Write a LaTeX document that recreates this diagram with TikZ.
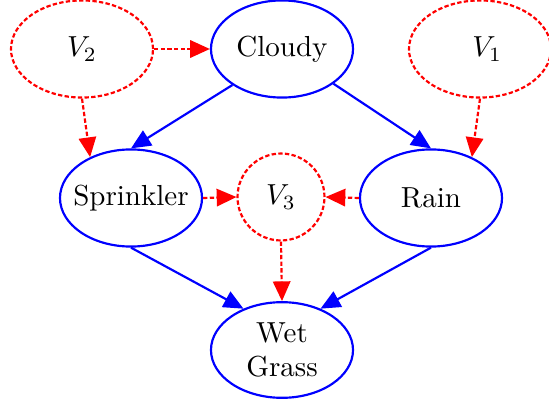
\documentclass[tikz,border=0pt]{standalone}
\usepackage{amsmath}
\usetikzlibrary{shapes.geometric,arrows.meta}

\tikzset{
  varnode/.style={ellipse, draw={rgb, 255:red, 0; green, 0; blue, 255}, line width=0.75pt, minimum width=49pt, minimum height=33.5pt, inner sep=0.75pt, align=center},
  noisenode/.style={ellipse, draw={rgb, 255:red, 255; green, 0; blue, 0}, line width=0.75pt, dash pattern={on 1.5pt off 0.8pt}, minimum width=49pt, minimum height=33.5pt, inner sep=0.75pt},
  causal/.style={draw={rgb, 255:red, 0; green, 0; blue, 255}, line width=0.75pt, -{Triangle[length=6.8pt,width=6pt]}},
  noise/.style={draw={rgb, 255:red, 255; green, 0; blue, 0}, line width=0.75pt, dash pattern={on 1.5pt off 0.8pt}, -{Triangle[length=6.8pt,width=6pt]}}
}

\begin{document}
\begin{tikzpicture}[x=0.345pt,y=0.345pt,yscale=-1,xscale=1]
  \useasboundingbox (0,0) rectangle (549,404);

  %Shape: Ellipse [id:cloudy]
  \node [varnode] (cloudy) at (282,49) {Cloudy};
  %Shape: Ellipse [id:sprinkler]
  \node [varnode, inner xsep=-3.6pt] (sprinkler) at (131,198) {Sprinkler};
  %Shape: Ellipse [id:rain]
  \node [varnode] (rain) at (431,198) {Rain};
  %Shape: Ellipse [id:wetgrass]
  \node [varnode, minimum height=33pt] (wetgrass) at (282,350) {Wet\\Grass};

  %Shape: Ellipse [id:v2]
  \node [noisenode] (v2) at (82,49) {$V_2$};
  %Shape: Ellipse [id:v1]
  \node [noisenode] (v1) at (480,49) {\hspace*{5pt}$V_1$};
  %Shape: Circle [id:v3]
  \node [noisenode, minimum width=30pt, minimum height=30pt] (v3) at (281,197) {$V_3$};

  %Straight Lines [id:causal]
  \draw [causal] (cloudy.216) -- (sprinkler.north);
  \draw [causal] (cloudy.326) -- (rain.north);
  \draw [causal] (sprinkler.south) -- (wetgrass.133);
  \draw [causal] (rain.south) -- (wetgrass.47);

  %Straight Lines [id:noise]
  \draw [noise] (v2.east) -- (cloudy.west);
  \draw [noise] (v2.south) -- (sprinkler.135);
  \draw [noise] (v1.south) -- (rain.45);
  \draw [noise] (sprinkler.east) -- (v3.west);
  \draw [noise] (rain.west) -- (v3.east);
  \draw [noise] (v3.south) -- (wetgrass.north);

\end{tikzpicture}
\end{document}
